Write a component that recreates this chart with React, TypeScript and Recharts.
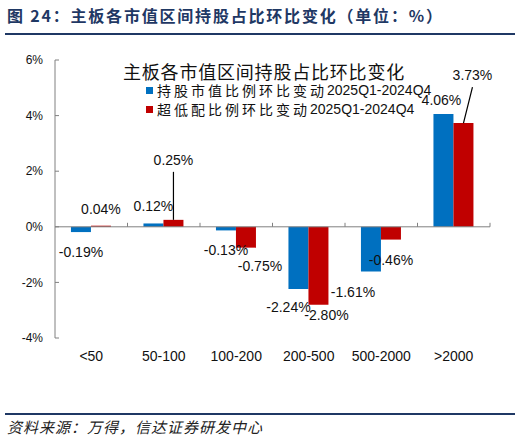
import type { FC } from "react";
import {
    BarChart,
    Bar,
    XAxis,
    YAxis,
    ReferenceLine,
    LabelList,
    Legend,
} from "recharts";

const categories = ["<50", "50-100", "100-200", "200-500", "500-2000", ">2000"];
const holdingChange = [-0.19, 0.12, -0.13, -2.24, -1.61, 4.06];
const overweightChange = [0.04, 0.25, -0.75, -2.8, -0.46, 3.73];
const yTicks = [-4, -2, 0, 2, 4, 6];

const seriesNames = {
    holding: "持股市值比例环比变动2025Q1-2024Q4",
    over: "超低配比例环比变动2025Q1-2024Q4",
};

const data = categories.map((name, i) => ({
    name,
    holding: holdingChange[i],
    over: overweightChange[i],
}));

// hand placed label nudges, the way the source chart had them
type Nudge = { dx: number; dy: number; leader?: boolean };
const holdingNudges: Nudge[] = [
    { dx: 0, dy: 0 },
    { dx: 0, dy: 0 },
    { dx: 0, dy: 0 },
    { dx: -10, dy: -2 },
    { dx: -18, dy: 0 },
    { dx: -2, dy: 3 },
];
const overNudges: Nudge[] = [
    { dx: 0, dy: 0 },
    { dx: 0, dy: -43, leader: true },
    { dx: 14, dy: -2 },
    { dx: 8, dy: -10 },
    { dx: 0, dy: 0 },
    { dx: 9, dy: -31, leader: true },
];

const NAVY = "#1F3864";
const BLUE = "#0070C0";
const RED = "#C00000";
const AXIS = "#808080";
const LATIN = "'Liberation Sans', Arial, sans-serif";
const CJK = "'Noto Sans CJK SC', 'Liberation Sans', sans-serif";

const makeLabel = (nudges: Nudge[]) => (props: any) => {
    const vb = props.viewBox ?? props;
    const x = Number(vb.x);
    const y = Number(vb.y);
    const w = Number(vb.width);
    const h = Number(vb.height);
    const value = Number(props.value);
    const n = nudges[props.index] ?? { dx: 0, dy: 0 };
    const top = Math.min(y, y + h);
    const bottom = Math.max(y, y + h);
    const cx = x + w / 2;
    const ly = value >= 0 ? top - 17 + n.dy : bottom + 20 + n.dy;
    return (
        <g>
            {n.leader && (
                <line x1={cx} y1={top} x2={cx + n.dx} y2={ly + 12} stroke="#000" strokeWidth={1.2} />
            )}
            <text
                x={cx + n.dx}
                y={ly}
                textAnchor="middle"
                dominantBaseline="central"
                fontSize={14}
                fontFamily={LATIN}
                fill="#111"
            >
                {`${value.toFixed(2)}%`}
            </text>
        </g>
    );
};

const ZeroLine = (props: any) => {
    const { x1, x2, y1 } = props;
    const step = (x2 - x1) / categories.length;
    return (
        <g>
            <line x1={x1} y1={y1} x2={x2} y2={y1} stroke={AXIS} strokeWidth={1} />
            {categories.map((c, i) => (
                <line
                    key={c}
                    x1={x1 + step * (i + 1)}
                    x2={x1 + step * (i + 1)}
                    y1={y1}
                    y2={y1 - 4}
                    stroke={AXIS}
                />
            ))}
        </g>
    );
};

const LegendBox = (props: any) => {
    const payload = props.payload ?? [];
    return (
        <div style={{ position: "relative", width: 330, height: 58 }}>
            <div
                style={{
                    position: "absolute",
                    left: 0,
                    top: 0,
                    fontFamily: CJK,
                    fontSize: 18,
                    lineHeight: "16px",
                    letterSpacing: 0.8,
                    color: "#111",
                    whiteSpace: "nowrap",
                }}
            >
                主板各市值区间持股占比环比变化
            </div>
            {payload.map((p: any, i: number) => {
                const label = String(p.value);
                const cut = label.search(/\d/);
                return (
                    <div
                        key={label}
                        style={{
                            position: "absolute",
                            left: 23,
                            top: 19 + i * 19,
                            height: 16,
                            lineHeight: "16px",
                            display: "flex",
                            alignItems: "center",
                            whiteSpace: "nowrap",
                            color: "#111",
                        }}
                    >
                        <span style={{ width: 7, height: 7, background: p.color, marginRight: 4 }} />
                        <span style={{ fontFamily: CJK, fontSize: 14, letterSpacing: 3 }}>
                            {label.slice(0, cut)}
                        </span>
                        <span style={{ fontFamily: LATIN, fontSize: 14 }}>{label.slice(cut)}</span>
                    </div>
                );
            })}
        </div>
    );
};

const App: FC = () => {
    return (
        <div
            style={{
                position: "absolute",
                left: 0,
                top: 0,
                width: 521,
                height: 441,
                background: "#fff",
            }}
        >
            <div
                style={{
                    position: "absolute",
                    left: 7,
                    top: 5,
                    fontFamily: CJK,
                    fontWeight: 700,
                    fontSize: 16,
                    letterSpacing: 1.8,
                    color: NAVY,
                    whiteSpace: "nowrap",
                    lineHeight: "20px",
                }}
            >
                图 24：主板各市值区间持股占比环比变化（单位：%）
            </div>
            <div style={{ position: "absolute", left: 5, top: 33, width: 510, height: 2, background: NAVY }} />

            <div style={{ position: "absolute", left: 0, top: 0 }}>
                <BarChart
                    width={521}
                    height={380}
                    data={data}
                    margin={{ top: 60, right: 31, bottom: 12, left: 0 }}
                    barCategoryGap="22%"
                    barGap={0}
                >
                    <XAxis
                        dataKey="name"
                        axisLine={false}
                        tickLine={false}
                        height={30}
                        tickMargin={7}
                        tick={{ fontSize: 14, fontFamily: LATIN, fill: "#111" }}
                        interval={0}
                    />
                    <YAxis
                        domain={[-4, 6]}
                        ticks={yTicks}
                        width={55}
                        tickFormatter={(v) => `${v}%`}
                        axisLine={{ stroke: AXIS }}
                        tickLine={{ stroke: AXIS }}
                        tickSize={-4}
                        tickMargin={16}
                        tick={{ fontSize: 12, fontFamily: LATIN, fill: "#111" }}
                        allowDataOverflow
                    />
                    <Legend
                        layout="vertical"
                        align="center"
                        verticalAlign="middle"
                        wrapperStyle={{ top: 63, left: 123, width: 340 }}
                        content={<LegendBox />}
                    />
                    <Bar
                        dataKey="holding"
                        name={seriesNames.holding}
                        fill={BLUE}
                        isAnimationActive={false}
                    >
                        <LabelList dataKey="holding" content={makeLabel(holdingNudges)} />
                    </Bar>
                    <Bar
                        dataKey="over"
                        name={seriesNames.over}
                        fill={RED}
                        isAnimationActive={false}
                    >
                        <LabelList dataKey="over" content={makeLabel(overNudges)} />
                    </Bar>
                    <ReferenceLine y={0} shape={<ZeroLine />} />
                </BarChart>
            </div>

            <div style={{ position: "absolute", left: 5, top: 413, width: 510, height: 2, background: NAVY }} />
            <div
                style={{
                    position: "absolute",
                    left: 7,
                    top: 418,
                    fontFamily: CJK,
                    fontStyle: "italic",
                    fontSize: 15,
                    letterSpacing: 1,
                    lineHeight: "18px",
                    color: "#222",
                    whiteSpace: "nowrap",
                }}
            >
                资料来源：万得，信达证券研发中心
            </div>
        </div>
    );
};

export default App;
